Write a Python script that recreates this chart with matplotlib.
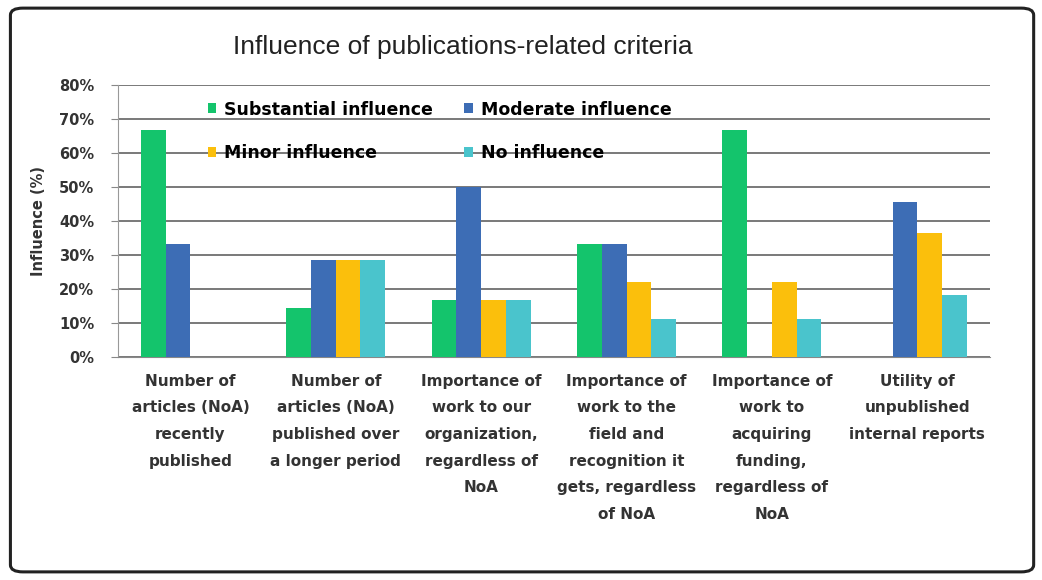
import numpy as np
import matplotlib
matplotlib.use("Agg")
import matplotlib.pyplot as plt
from matplotlib.patches import FancyBboxPatch

categories = [
    "Number of\narticles (NoA)\nrecently\npublished",
    "Number of\narticles (NoA)\npublished over\na longer period",
    "Importance of\nwork to our\norganization,\nregardless of\nNoA",
    "Importance of\nwork to the\nfield and\nrecognition it\ngets, regardless\nof NoA",
    "Importance of\nwork to\nacquiring\nfunding,\nregardless of\nNoA",
    "Utility of\nunpublished\ninternal reports",
]
substantial = [66.7, 14.3, 16.7, 33.3, 66.7, 0]
moderate = [33.3, 28.6, 50.0, 33.3, 0, 45.5]
minor = [0, 28.6, 16.7, 22.2, 22.2, 36.4]
none_ = [0, 28.6, 16.7, 11.1, 11.1, 18.2]

series = [
    ("Substantial influence", substantial, "#14c46c"),
    ("Moderate influence", moderate, "#3d6db5"),
    ("Minor influence", minor, "#fbbf0c"),
    ("No influence", none_, "#4ac4cc"),
]

fig = plt.figure(figsize=(10.42, 5.80), dpi=100)
fig.patch.set_facecolor("white")
fig.patches.append(FancyBboxPatch((0.010, 0.014), 0.982, 0.972,
                                  boxstyle="round,pad=0,rounding_size=0.012",
                                  transform=fig.transFigure, fill=False,
                                  edgecolor="#222222", linewidth=2.2))

ax = fig.add_axes([0.113, 0.3845, 0.837, 0.469])
x = np.arange(len(categories))
w = 0.17
bars = []
for i, (name, vals, col) in enumerate(series):
    b = ax.bar(x + (i - 1.5) * w, vals, w, color=col, label=name, zorder=3)
    bars.append(b)

ax.set_xlim(-0.5, len(categories) - 0.5)
ax.set_ylim(0, 80)
ax.set_yticks(np.arange(0, 81, 10))
ax.set_yticklabels([f"{v}%" for v in range(0, 81, 10)], fontsize=10.5,
                   fontweight="bold", color="#333333")
ax.yaxis.grid(True, color="#6e6e6e", linewidth=1.3, zorder=0)
ax.set_xticks(x)
ax.set_xticklabels(categories, fontsize=11, fontweight="bold", color="#333333",
                   linespacing=1.97)
ax.tick_params(axis="x", length=0, pad=12)
ax.tick_params(axis="y", length=5, color="#888888", pad=12)
for s in ["top", "right"]:
    ax.spines[s].set_visible(False)
ax.spines["left"].set_color("#999999")
ax.spines["bottom"].set_color("#888888")
ax.set_ylabel("Influence (%)", fontsize=10.5, fontweight="bold", color="#333333",
              labelpad=9)

fig.text(463 / 1042, 1 - 47 / 580, "Influence of publications-related criteria",
         fontsize=19, family="Liberation Sans", color="#222222",
         ha="center", va="center")

handles = [bars[0], bars[2], bars[1], bars[3]]
labels = [series[0][0], series[2][0], series[1][0], series[3][0]]
ax.legend(handles, labels, ncol=2, loc="upper left", bbox_to_anchor=(0.085, 1.0),
          frameon=False, prop={"weight": "bold", "size": 12.5},
          handlelength=0.5, handleheight=0.5, handletextpad=0.45,
          columnspacing=1.8, labelspacing=1.45)

fig.savefig("out.png", dpi=100)
